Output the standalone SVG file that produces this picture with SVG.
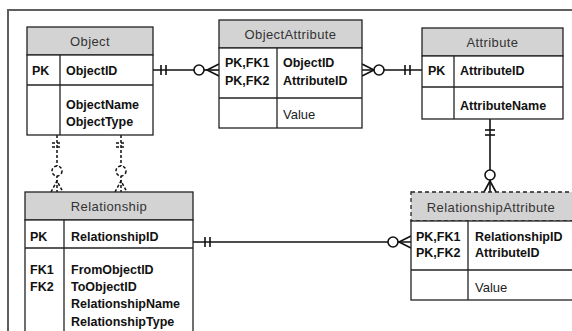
<svg xmlns="http://www.w3.org/2000/svg" width="572" height="331" viewBox="0 0 572 331">
<defs>
<style>
.frame{fill:none;stroke:#5f5f5f;stroke-width:2}
.hdr{fill:#d3d3d3;stroke:#222;stroke-width:1.3}
.body{fill:#fff;stroke:#222;stroke-width:1.3}
.ln{stroke:#222;stroke-width:1.3;fill:none}
.dash{stroke:#222;stroke-width:1.3;fill:none;stroke-dasharray:4,3}
.c{stroke:#111;stroke-width:1.6;fill:none}
.cd{stroke:#111;stroke-width:1.5;fill:none;stroke-dasharray:3,2}
.circ{stroke:#111;stroke-width:1.6;fill:#fff}
.t{font-family:"Liberation Sans",Arial,sans-serif;font-size:13px;fill:#222}
.th{font-family:"Liberation Sans",Arial,sans-serif;font-size:13px;fill:#333;text-anchor:middle;letter-spacing:0.4px}
.b{font-family:"Liberation Sans",Arial,sans-serif;font-size:12.5px;font-weight:bold;fill:#111}
</style>
</defs>
<rect class="frame" x="8" y="10" width="580" height="340"/>

<g id="connectors">
  <!-- Object - ObjectAttribute -->
  <line class="c" x1="153" y1="70" x2="194" y2="70"/>
  <line class="c" x1="204" y1="70" x2="219" y2="70"/>
  <line class="c" x1="161" y1="65" x2="161" y2="75"/>
  <line class="c" x1="166" y1="65" x2="166" y2="75"/>
  <circle class="circ" cx="199" cy="70" r="5"/>
  <path class="c" d="M219,64 L207,70 L219,76"/>
  <!-- ObjectAttribute - Attribute -->
  <line class="c" x1="362" y1="70" x2="422" y2="70"/>
  <path class="c" d="M362,64 L374,70 L362,76"/>
  <circle class="circ" cx="379" cy="70" r="5"/>
  <line class="c" x1="405" y1="65" x2="405" y2="75"/>
  <line class="c" x1="410" y1="65" x2="410" y2="75"/>
  <!-- Attribute - RelationshipAttribute -->
  <line class="c" x1="490" y1="119" x2="490" y2="192"/>
  <line class="c" x1="485" y1="130" x2="495" y2="130"/>
  <line class="c" x1="485" y1="135" x2="495" y2="135"/>
  <circle class="circ" cx="490" cy="175" r="5"/>
  <path class="c" d="M484,192 L490,181 L496,192"/>
  <!-- Relationship - RelationshipAttribute -->
  <line class="c" x1="193" y1="242" x2="411" y2="242"/>
  <line class="c" x1="205" y1="237" x2="205" y2="247"/>
  <line class="c" x1="210" y1="237" x2="210" y2="247"/>
  <circle class="circ" cx="393" cy="242" r="5"/>
  <path class="c" d="M411,236 L399,242 L411,248"/>
  <!-- Object - Relationship (From) -->
  <line class="cd" x1="57" y1="135" x2="57" y2="192"/>
  <line class="cd" x1="52" y1="143" x2="62" y2="143"/>
  <line class="cd" x1="52" y1="147" x2="62" y2="147"/>
  <circle class="cd" cx="57" cy="171" r="5" style="fill:#fff"/>
  <path class="cd" d="M51,192 L57,181 L63,192"/>
  <!-- Object - Relationship (To) -->
  <line class="cd" x1="121" y1="135" x2="121" y2="192"/>
  <line class="cd" x1="116" y1="143" x2="126" y2="143"/>
  <line class="cd" x1="116" y1="147" x2="126" y2="147"/>
  <circle class="cd" cx="121" cy="171" r="5" style="fill:#fff"/>
  <path class="cd" d="M115,192 L121,181 L127,192"/>
</g>

<g id="Object">
  <rect class="hdr" x="27" y="27" width="126" height="28"/>
  <rect class="body" x="27" y="55" width="126" height="80"/>
  <line class="ln" x1="27" y1="85" x2="153" y2="85"/>
  <line class="ln" x1="60" y1="55" x2="60" y2="135"/>
  <text class="th" x="90" y="46">Object</text>
  <text class="b" x="32" y="75">PK</text>
  <text class="b" x="66" y="75">ObjectID</text>
  <text class="b" x="66" y="109">ObjectName</text>
  <text class="b" x="66" y="126">ObjectType</text>
</g>

<g id="ObjectAttribute">
  <rect class="hdr" x="219" y="20" width="143" height="28"/>
  <rect class="body" x="219" y="48" width="143" height="80"/>
  <line class="ln" x1="219" y1="98" x2="362" y2="98"/>
  <line class="ln" x1="277" y1="48" x2="277" y2="128"/>
  <text class="th" x="290.5" y="39">ObjectAttribute</text>
  <text class="b" x="225" y="67">PK,FK1</text>
  <text class="b" x="225" y="85">PK,FK2</text>
  <text class="b" x="283" y="67">ObjectID</text>
  <text class="b" x="283" y="85">AttributeID</text>
  <text class="t" x="283" y="119">Value</text>
</g>

<g id="Attribute">
  <rect class="hdr" x="422" y="28" width="141" height="28"/>
  <rect class="body" x="422" y="56" width="141" height="63"/>
  <line class="ln" x1="422" y1="87" x2="563" y2="87"/>
  <line class="ln" x1="454" y1="56" x2="454" y2="119"/>
  <text class="th" x="492.5" y="47">Attribute</text>
  <text class="b" x="428" y="75">PK</text>
  <text class="b" x="460" y="75">AttributeID</text>
  <text class="b" x="460" y="110">AttributeName</text>
</g>

<g id="Relationship">
  <rect class="hdr" x="25" y="192" width="168" height="28"/>
  <rect class="body" x="25" y="220" width="168" height="130"/>
  <line class="ln" x1="25" y1="248" x2="193" y2="248"/>
  <line class="ln" x1="64" y1="220" x2="64" y2="350"/>
  <text class="th" x="109" y="211">Relationship</text>
  <text class="b" x="30" y="241">PK</text>
  <text class="b" x="71" y="241">RelationshipID</text>
  <text class="b" x="30" y="274">FK1</text>
  <text class="b" x="30" y="291">FK2</text>
  <text class="b" x="71" y="274">FromObjectID</text>
  <text class="b" x="71" y="291">ToObjectID</text>
  <text class="b" x="71" y="308">RelationshipName</text>
  <text class="b" x="71" y="326">RelationshipType</text>
</g>

<g id="RelationshipAttribute">
  <rect class="hdr" x="411" y="192" width="165" height="29" style="stroke-dasharray:4,3"/>
  <rect class="body" x="411" y="221" width="165" height="79"/>
  <line class="ln" x1="411" y1="270" x2="576" y2="270"/>
  <line class="ln" x1="468" y1="221" x2="468" y2="300"/>
  <text class="th" x="491" y="212">RelationshipAttribute</text>
  <text class="b" x="416" y="241">PK,FK1</text>
  <text class="b" x="416" y="257">PK,FK2</text>
  <text class="b" x="475" y="241">RelationshipID</text>
  <text class="b" x="475" y="257">AttributeID</text>
  <text class="t" x="475" y="292">Value</text>
</g>
</svg>
